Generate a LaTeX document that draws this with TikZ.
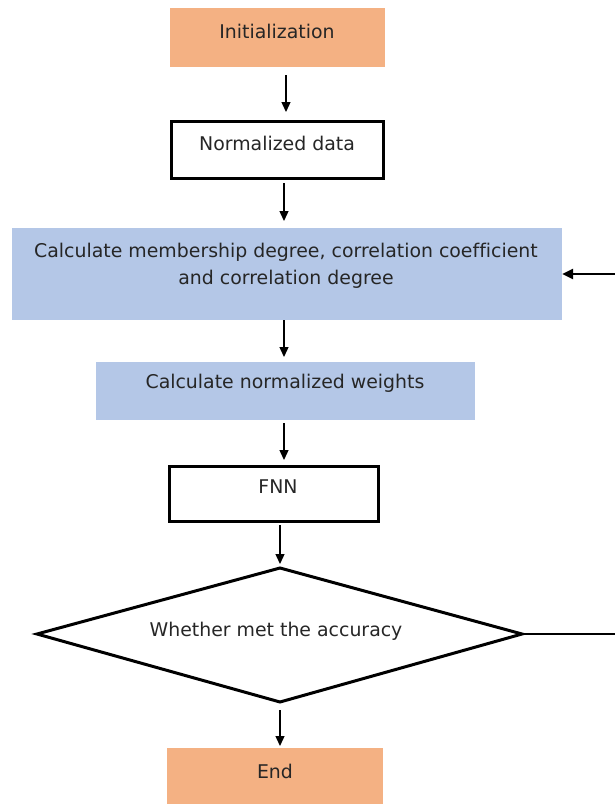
\documentclass[tikz,border=0pt]{standalone}
\usepackage{fontspec}
\setmainfont[Ligatures=NoCommon]{DejaVu Sans}
\usetikzlibrary{arrows.meta}
\definecolor{orangefill}{HTML}{F4B183}
\definecolor{bluefill}{HTML}{B4C7E7}
\definecolor{txt}{HTML}{262626}
\begin{document}
\begin{tikzpicture}[x=1pt,y=-1pt,
  orangebox/.style={fill=orangefill, draw=none, inner sep=0pt},
  bluebox/.style={fill=bluefill, draw=none, inner sep=0pt},
  framebox/.style={fill=white, draw=black, line width=3.3pt, inner sep=0pt},
  label/.style={text=txt, font=\fontsize{18.9}{27}\selectfont, inner sep=0pt, align=center},
  arr/.style={line width=1.3pt, -{Triangle[length=10pt,width=9pt]}},
  plain/.style={line width=2.6pt}
]
\useasboundingbox (0,0) rectangle (615,804);
% boxes
\node[orangebox, minimum width=215pt, minimum height=59pt] (init) at (277.5,37.5) {};
\node[label] (initT) at (277,31) {Initialization};
\node[framebox, minimum width=212pt, minimum height=57pt] (norm) at (277.5,150) {};
\node[label] (normT) at (277,143) {Normalized data};
\node[bluebox, minimum width=550pt, minimum height=92pt] (calc) at (287,274) {};
\node[label] (calcT) at (286,266) {Calculate membership degree, correlation coefficient\\and correlation degree};
\node[bluebox, minimum width=379pt, minimum height=58pt] (weights) at (285.5,391) {};
\node[label] (weightsT) at (285,383) {Calculate normalized weights};
\node[framebox, minimum width=209pt, minimum height=55pt] (fnn) at (274,494) {};
\node[label] (fnnT) at (278,487) {FNN};
% diamond
\coordinate (dtop) at (280,568);
\coordinate (dleft) at (37,634);
\coordinate (dright) at (522,634);
\coordinate (dbot) at (280,702);
\draw[line width=3pt, line join=miter] (dtop) -- (dright) -- (dbot) -- (dleft) -- cycle;
\node[label] (decT) at (276,631) {Whether met the accuracy};
\node[orangebox, minimum width=216pt, minimum height=57pt] (endb) at (275,776.5) {};
\node[label] (endT) at (275,771) {End};
% connectors
\draw[arr] (286,75) -- (286,112);
\draw[arr] (284,183) -- (284,221);
\draw[arr] (284,320) -- (284,357);
\draw[arr] (284,423) -- (284,460);
\draw[arr] (280,525) -- (280,564);
\draw[arr] (280,710) -- (280,746);
% feedback loop (runs off the right edge)
\coordinate (loopA) at (616,634);
\coordinate (loopB) at (616,274);
\draw[plain] (dright) -- (loopA);
\draw[line width=2.4pt, -{Triangle[length=11pt,width=10pt]}] (loopB) -- (calc.east);
\end{tikzpicture}
\end{document}
